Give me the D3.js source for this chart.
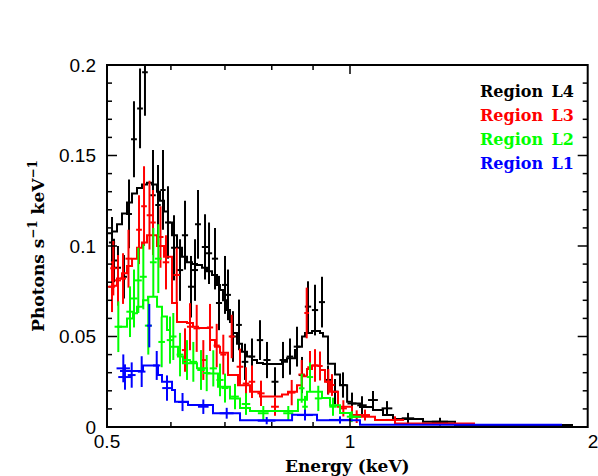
<!DOCTYPE html>
<html>
<head>
<meta charset="utf-8">
<script src="https://cdn.jsdelivr.net/npm/d3@7"></script>
<style>
  body { margin: 0; background: #fff; }
  text { fill: #000; }
</style>
</head>
<body>
<svg id="grafico" width="598" height="476"></svg>
<script>
// Region L4 (black): model steps + data points
const l4Edges = [0.500,0.5072,0.5145,0.5219,0.5294,0.5370,0.5447,0.5525,0.5604,0.5685,0.5767,0.5816,0.5883,0.5950,0.6019,0.6105,0.6193,0.6282,0.6372,0.6463,0.6556,0.6650,0.6746,0.6843,0.6902,0.6961,0.7041,0.7101,0.7162,0.7245,0.7349,0.7454,0.7561,0.7670,0.7802,0.8237,0.8355,0.8548,0.8597,0.8720,0.8796,0.8973,0.9180,0.9259,0.9392,0.9581,0.9719,0.9918,1.0057,1.0289,1.0678,1.0987,1.1305,1.2315,1.3493,1.889];
const l4Model = [0.107,0.108,0.112,0.118,0.124,0.129,0.132,0.134,0.135,0.134,0.130,0.125,0.119,0.113,0.106,0.099,0.094,0.091,0.090,0.0895,0.088,0.086,0.084,0.0785,0.0757,0.070,0.0646,0.058,0.052,0.046,0.0416,0.0389,0.037,0.0353,0.0348,0.036,0.038,0.0425,0.0444,0.050,0.052,0.053,0.052,0.050,0.035,0.029,0.023,0.014,0.013,0.011,0.0094,0.0066,0.0044,0.0029,0.0011];
const l4E   = [0.5072,0.5101,0.5159,0.5248,0.5324,0.5400,0.5494,0.5572,0.5701,0.5783,0.5866,0.5950,0.6053,0.6158,0.6246,0.6354,0.6427,0.6482,0.6613,0.6689,0.6804,0.6882,0.7001,0.7061,0.7162,0.7286,0.7412,0.7561,0.7736,0.7892,0.8074,0.8260,0.8427,0.8597,0.8720,0.8871,0.9050,0.9232,0.9392,0.9581,0.9803,1.0057,1.0348,1.0678,1.1113,1.1799,1.2927];
const l4W   = [0.0045,0.0045,0.0045,0.0045,0.0045,0.0045,0.0045,0.0045,0.0045,0.0045,0.0045,0.005,0.005,0.0055,0.0055,0.0055,0.0055,0.0055,0.006,0.006,0.006,0.006,0.006,0.006,0.006,0.006,0.007,0.007,0.007,0.008,0.008,0.008,0.008,0.008,0.008,0.008,0.008,0.008,0.009,0.009,0.010,0.013,0.014,0.015,0.017,0.021,0.03];
const l4Y   = [0.102,0.092,0.088,0.083,0.1177,0.159,0.176,0.196,0.128,0.1227,0.131,0.113,0.099,0.0867,0.106,0.0775,0.0867,0.112,0.0995,0.096,0.093,0.0685,0.0785,0.073,0.050,0.0564,0.036,0.0389,0.048,0.037,0.025,0.037,0.0389,0.0444,0.0287,0.0665,0.0646,0.069,0.026,0.0195,0.0232,0.013,0.012,0.0149,0.0103,0.0048,0.0029];
const l4Err = [0.014,0.012,0.012,0.012,0.019,0.021,0.022,0.024,0.025,0.022,0.022,0.020,0.018,0.017,0.019,0.017,0.017,0.019,0.018,0.017,0.017,0.015,0.016,0.014,0.014,0.014,0.010,0.010,0.011,0.010,0.008,0.010,0.010,0.011,0.010,0.014,0.014,0.014,0.008,0.007,0.007,0.006,0.005,0.005,0.004,0.003,0.0022];

// Region L3 (red)
const l3Edges = [0.500,0.5072,0.5145,0.5219,0.5294,0.5370,0.5447,0.5525,0.5604,0.5767,0.5883,0.6019,0.6105,0.6282,0.6390,0.6482,0.6708,0.6804,0.6902,0.7061,0.7265,0.7518,0.7736,0.8237,0.8379,0.8597,0.8720,0.8846,0.8973,0.9180,0.9312,0.9446,0.9663,1.0057,1.0289,1.0739,1.137,1.4284];
const l3Model = [0.0775,0.078,0.082,0.085,0.089,0.093,0.099,0.102,0.106,0.100,0.094,0.0685,0.058,0.0575,0.0554,0.0547,0.048,0.0444,0.041,0.0287,0.023,0.0195,0.0168,0.018,0.0195,0.023,0.028,0.032,0.034,0.0315,0.025,0.0195,0.0112,0.0066,0.0057,0.0039,0.002];
const l3E   = [0.5072,0.5091,0.5159,0.5234,0.5316,0.5478,0.5557,0.5644,0.5701,0.5824,0.5916,0.6100,0.6246,0.6336,0.6458,0.6581,0.6708,0.6837,0.6967,0.7136,0.7307,0.7433,0.7561,0.7758,0.8074,0.8468,0.8713,0.8838,0.8922,0.9050,0.9180,0.9400,0.9499,0.9812,1.0193,1.0437,1.137];
const l3W   = [0.0045,0.0045,0.0045,0.0045,0.0045,0.0045,0.0045,0.0045,0.0045,0.005,0.0055,0.0055,0.0055,0.0055,0.006,0.006,0.006,0.006,0.006,0.006,0.007,0.007,0.007,0.008,0.009,0.009,0.008,0.006,0.007,0.007,0.007,0.007,0.007,0.010,0.013,0.015,0.03];
const l3Y   = [0.0775,0.0877,0.081,0.082,0.093,0.109,0.122,0.117,0.113,0.105,0.091,0.084,0.0425,0.0554,0.0545,0.037,0.055,0.045,0.040,0.050,0.0333,0.024,0.025,0.0186,0.0112,0.019,0.029,0.063,0.033,0.034,0.0337,0.025,0.0232,0.0103,0.0057,0.0066,0.0039];
const l3Err = [0.014,0.015,0.014,0.014,0.016,0.019,0.022,0.019,0.018,0.017,0.015,0.015,0.012,0.013,0.013,0.011,0.013,0.012,0.011,0.012,0.010,0.009,0.009,0.007,0.005,0.007,0.008,0.014,0.009,0.009,0.008,0.007,0.006,0.0045,0.0035,0.003,0.002];

// Region L2 (green)
const l2Edges = [0.5145,0.5294,0.5385,0.5447,0.5541,0.5620,0.5767,0.5849,0.5933,0.5984,0.6123,0.6210,0.6463,0.6650,0.6862,0.7101,0.7307,0.7518,0.8621,0.8846,0.9232,0.9446,0.9719,1.0,1.0319];
const l2Model = [0.0554,0.060,0.0628,0.0665,0.070,0.072,0.0665,0.061,0.0536,0.0444,0.0389,0.0352,0.0324,0.0296,0.0223,0.0158,0.0105,0.0088,0.015,0.0195,0.016,0.012,0.0077,0.0057];
const l2E   = [0.5164,0.5339,0.5400,0.5467,0.5546,0.5625,0.5706,0.5788,0.5844,0.5984,0.6041,0.6158,0.6282,0.6396,0.6538,0.6645,0.6771,0.6902,0.7001,0.7203,0.7433,0.7809,0.8386,0.8713,0.8796,0.8922,0.9135,0.9527,1.0049];
const l2W   = [0.0055,0.0055,0.0055,0.0055,0.0055,0.0055,0.0055,0.0055,0.0055,0.0055,0.0055,0.006,0.007,0.007,0.007,0.007,0.007,0.007,0.007,0.008,0.009,0.012,0.012,0.007,0.007,0.008,0.009,0.010,0.014];
const l2Y   = [0.0554,0.0637,0.071,0.081,0.083,0.056,0.091,0.093,0.047,0.048,0.050,0.040,0.037,0.036,0.0315,0.0298,0.0324,0.026,0.0215,0.0168,0.0127,0.0076,0.0076,0.0214,0.0112,0.0276,0.0158,0.0112,0.0057];
const l2Err = [0.014,0.014,0.016,0.018,0.018,0.016,0.019,0.019,0.014,0.013,0.013,0.012,0.011,0.011,0.011,0.010,0.010,0.009,0.008,0.007,0.006,0.004,0.004,0.008,0.006,0.008,0.007,0.005,0.003];

// Region L1 (blue)
const l1Edges = [0.5189,0.5541,0.5783,0.5849,0.6019,0.6070,0.6300,0.6765,0.7307,0.8477,0.9102,1.0289,1.8307];
const l1Model = [0.031,0.034,0.0287,0.025,0.0204,0.014,0.0122,0.0076,0.0037,0.0068,0.0037,0.0013];
const l1E   = [0.5238,0.5263,0.5365,0.5520,0.5641,0.5762,0.5933,0.6202,0.6581,0.7035,0.7885,0.8796,0.9719];
const l1W   = [0.010,0.010,0.006,0.006,0.004,0.006,0.008,0.008,0.010,0.014,0.02,0.02,0.03];
const l1Y   = [0.0324,0.0276,0.0287,0.0306,0.056,0.034,0.0215,0.0138,0.0112,0.0076,0.0035,0.0066,0.0039];
const l1Err = [0.0077,0.007,0.007,0.0085,0.012,0.008,0.007,0.005,0.004,0.003,0.002,0.003,0.002];

// Eixos e legenda
const xMax = 1.97;
const xMajor = [0.5, 1, 2];
const xMinor = [0.6, 0.7, 0.8, 0.9];
const yMajor = [0, 0.05, 0.1, 0.15, 0.2];
const yMinor = d3.range(0, 0.2001, 0.01);
const legendas = ["Region L4", "Region L3", "Region L2", "Region L1"];
const cores = ["#000000", "#ff0000", "#00ff00", "#0000ff"];

const svg = d3.select("#grafico");
const x = d3.scaleLog().domain([0.5, 2]).range([107, 593]);
const y = d3.scaleLinear().domain([0, 0.2]).range([427, 65]);
const x0 = x(0.5), x1 = x(xMax), y0 = y(0), y1 = y(0.2);

svg.append("clipPath").attr("id", "area")
  .append("rect")
  .attr("x", x0).attr("y", y1)
  .attr("width", x1 - x0).attr("height", y0 - y1);

const plot = svg.append("g").attr("clip-path", "url(#area)");

const series = [
  { edges: l4Edges, model: l4Model, e: l4E, w: l4W, v: l4Y, err: l4Err },
  { edges: l3Edges, model: l3Model, e: l3E, w: l3W, v: l3Y, err: l3Err },
  { edges: l2Edges, model: l2Model, e: l2E, w: l2W, v: l2Y, err: l2Err },
  { edges: l1Edges, model: l1Model, e: l1E, w: l1W, v: l1Y, err: l1Err }
];

const degrau = d3.line()
  .x(d => x(d[0]))
  .y(d => y(d[1]))
  .curve(d3.curveStepAfter);

series.forEach((s, k) => {
  const g = plot.append("g").attr("stroke", cores[k]).attr("stroke-width", 2).attr("fill", "none");

  // modelo em degraus
  const pts = s.edges.map((e, i) => [e, s.model[Math.min(i, s.model.length - 1)]]);
  g.append("path").attr("d", degrau(pts));

  // pontos com barras de erro
  s.e.forEach((e, i) => {
    g.append("line")
      .attr("x1", x(e - s.w[i])).attr("x2", x(e + s.w[i]))
      .attr("y1", y(s.v[i])).attr("y2", y(s.v[i]));
    g.append("line")
      .attr("x1", x(e)).attr("x2", x(e))
      .attr("y1", y(s.v[i] - s.err[i])).attr("y2", y(s.v[i] + s.err[i]));
  });
});

// Moldura
svg.append("rect")
  .attr("x", x0).attr("y", y1)
  .attr("width", x1 - x0).attr("height", y0 - y1)
  .attr("fill", "none").attr("stroke", "#000").attr("stroke-width", 2);

const marcas = svg.append("g").attr("stroke", "#000").attr("stroke-width", 1.5);

// Marcas do eixo x (em baixo e em cima)
xMajor.filter(v => v <= xMax).forEach(v => {
  marcas.append("line").attr("x1", x(v)).attr("x2", x(v)).attr("y1", y0).attr("y2", y0 - 9);
  marcas.append("line").attr("x1", x(v)).attr("x2", x(v)).attr("y1", y1).attr("y2", y1 + 9);
});
xMinor.forEach(v => {
  marcas.append("line").attr("x1", x(v)).attr("x2", x(v)).attr("y1", y0).attr("y2", y0 - 5);
  marcas.append("line").attr("x1", x(v)).attr("x2", x(v)).attr("y1", y1).attr("y2", y1 + 5);
});

// Marcas do eixo y (esquerda e direita)
yMinor.forEach(v => {
  const big = yMajor.some(m => Math.abs(m - v) < 1e-6);
  const len = big ? 10 : 5;
  marcas.append("line").attr("x1", x0).attr("x2", x0 + len).attr("y1", y(v)).attr("y2", y(v));
  marcas.append("line").attr("x1", x1).attr("x2", x1 - len).attr("y1", y(v)).attr("y2", y(v));
});

// Rótulos
const fonteNum = "'Liberation Sans', Arial, sans-serif";
svg.selectAll(".ylab").data(yMajor).enter().append("text")
  .attr("x", x0 - 11).attr("y", d => y(d)).attr("dy", "0.36em")
  .attr("text-anchor", "end")
  .style("font-family", fonteNum).style("font-size", "19px")
  .text(d => d3.format("")(d));

svg.selectAll(".xlab").data(xMajor).enter().append("text")
  .attr("x", d => x(d)).attr("y", y0 + 21)
  .attr("text-anchor", "middle")
  .style("font-family", fonteNum).style("font-size", "19px")
  .text(d => d);

const fonteTit = "'DejaVu Serif', serif";
svg.append("text")
  .attr("x", (x0 + x1) / 2).attr("y", 472)
  .attr("text-anchor", "middle")
  .style("font-family", fonteTit).style("font-weight", "bold").style("font-size", "17px")
  .text("Energy (keV)");

const ytit = svg.append("text")
  .attr("transform", `translate(44,${(y0 + y1) / 2}) rotate(-90)`)
  .attr("text-anchor", "middle")
  .style("font-family", fonteTit).style("font-weight", "bold").style("font-size", "17px");
ytit.append("tspan").text("Photons s");
ytit.append("tspan").attr("dy", -7).style("font-size", "12px").text("−1");
ytit.append("tspan").attr("dy", 7).text(" keV");
ytit.append("tspan").attr("dy", -7).style("font-size", "12px").text("−1");

// Legenda
svg.selectAll(".leg").data(legendas).enter().append("text")
  .attr("x", 480).attr("y", (d, i) => 97 + i * 24)
  .style("font-family", fonteTit).style("font-weight", "bold").style("font-size", "16px")
  .style("word-spacing", "3px")
  .style("fill", (d, i) => cores[i])
  .text(d => d);
</script>
</body>
</html>
